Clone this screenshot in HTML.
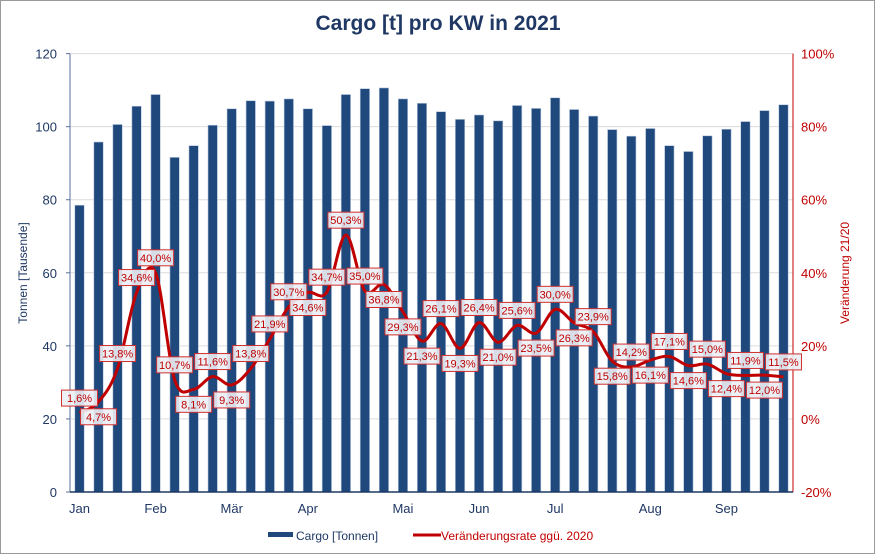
<!DOCTYPE html>
<html><head><meta charset="utf-8"><style>
body{margin:0;background:#fff;}
svg{display:block;font-family:"Liberation Sans",sans-serif;}
</style></head><body>
<svg id="c" width="876" height="556" viewBox="0 0 876 556" xmlns="http://www.w3.org/2000/svg">
<rect x="0.5" y="0.5" width="874" height="553" fill="#fff" stroke="#999"/>
<text x="438" y="30" text-anchor="middle" font-size="21" font-weight="bold" fill="#1f3864">Cargo [t] pro KW in 2021</text>
<text transform="translate(27,273) rotate(-90)" text-anchor="middle" font-size="12" fill="#1f3864">Tonnen [Tausende]</text>
<text transform="translate(849,273) rotate(-90)" text-anchor="middle" font-size="12" fill="#c00000">Veränderung 21/20</text>
<g id="grid"></g><g id="bars"></g><g id="axes"></g><g id="line"></g><g id="labels"></g>
<g>
<rect x="268" y="532" width="25" height="5" fill="#1f497d"/>
<text x="296" y="540" font-size="12" fill="#1f3864">Cargo [Tonnen]</text>
<line x1="413" y1="535" x2="441" y2="535" stroke="#c00000" stroke-width="3"/>
<text x="441" y="540" font-size="12" fill="#c00000">Veränderungsrate ggü. 2020</text>
</g>
</svg>
<script>
const cargo=[78.5,95.8,100.6,105.6,108.8,91.6,94.8,100.4,104.9,107.1,107,107.6,104.9,100.3,108.8,110.4,110.6,107.6,106.4,104.1,102,103.2,101.6,105.8,105,107.9,104.7,102.9,99.2,97.4,99.5,94.8,93.2,97.5,99.3,101.4,104.4,106];
const rate=[1.6,4.7,13.8,34.6,40.0,10.7,8.1,11.6,9.3,13.8,21.9,30.7,34.6,34.7,50.3,35.0,36.8,29.3,21.3,26.1,19.3,26.4,21.0,25.6,23.5,30.0,26.3,23.9,15.8,14.2,16.1,17.1,14.6,15.0,12.4,11.9,12.0,11.5];
const labelPos=[-1,1,-1,-1,-1,-1,1,-1,1,-1,-1,-1,1,-1,-1,-1,1,1,1,-1,1,-1,1,-1,1,-1,1,-1,1,-1,1,-1,1,-1,1,-1,1,-1];
const leftTicks=[0,20,40,60,80,100,120];
const rightTicks=[-20,0,20,40,60,80,100];
const months=["Jan","Feb","Mär","Apr","Mai","Jun","Jul","Aug","Sep"];
const monthIdx=[0,4,8,12,17,21,25,30,34];
const NS="http://www.w3.org/2000/svg";
const X0=70,X1=793,Y0=492,Y1=53.6;
const bw=(X1-X0)/cargo.length;
const xc=i=>X0+bw*(i+0.5);
const yL=v=>Y0-(v/120)*(Y0-Y1);
const yR=v=>Y0-((v+20)/120)*(Y0-Y1);
function mk(t,a,p){const e=document.createElementNS(NS,t);for(const k in a)e.setAttribute(k,a[k]);p.appendChild(e);return e;}
const G=document.getElementById('grid'),B=document.getElementById('bars'),A=document.getElementById('axes'),L=document.getElementById('line'),LB=document.getElementById('labels');
leftTicks.forEach(v=>{
 const g=mk('line',{x1:X0,x2:X1,y1:yL(v),y2:yL(v),stroke:'#dcdcdc'},G);
 
 
 const t=mk('text',{x:57,y:yL(v)+5,'text-anchor':'end','font-size':13,fill:'#1f3864'},A);t.textContent=v;
 
 
 mk('line',{x1:X0-4,x2:X0,y1:yL(v),y2:yL(v),stroke:'#5a6e9a'},A);
});
rightTicks.forEach(v=>{
 const t=mk('text',{x:801,y:yR(v)+5,'font-size':13,fill:'#c00000'},A);t.textContent=v+'%';
 
 
});
cargo.forEach((v,i)=>{
 const r=mk('rect',{x:xc(i)-4.7,y:yL(v),width:9.4,height:Y0-yL(v),fill:'#1f497d',stroke:'#b8c7dd','stroke-width':0.6},B);
 
 
});
mk('line',{x1:X0,x2:X0,y1:Y1,y2:Y0,stroke:'#5a6e9a'},A);
mk('line',{x1:X1,x2:X1,y1:Y1,y2:Y0,stroke:'#c00000'},A);
mk('line',{x1:X0,x2:X1,y1:Y0,y2:Y0,stroke:'#1f3864','stroke-width':1.5},A);
months.forEach((m,k)=>{
 const t=mk('text',{x:xc(monthIdx[k]),y:513,'text-anchor':'middle','font-size':13,fill:'#1f3864'},A);t.textContent=m;
 
 
});
const pts=rate.map((v,i)=>[xc(i),yR(v)]);
let d='M'+pts[0][0]+','+pts[0][1];
for(let i=0;i<pts.length-1;i++){
 const p0=pts[Math.max(0,i-1)],p1=pts[i],p2=pts[i+1],p3=pts[Math.min(pts.length-1,i+2)];
 const c1=[p1[0]+(p2[0]-p0[0])/6,p1[1]+(p2[1]-p0[1])/6],c2=[p2[0]-(p3[0]-p1[0])/6,p2[1]-(p3[1]-p1[1])/6];
 d+=' C'+c1+' '+c2+' '+p2;
}
const ln=mk('path',{d:d,fill:'none',stroke:'#c00000','stroke-width':3,'stroke-linejoin':'round'},L);


rate.forEach((v,i)=>{
 const cy=yR(v)+labelPos[i]*15;
 const g=mk('g',{},LB);
 
 
 mk('rect',{x:xc(i)-18,y:cy-8,width:36,height:16,fill:'rgba(235,238,244,0.9)',stroke:'#d03030','stroke-width':1},g);
 const t=mk('text',{x:xc(i),y:cy+4,'text-anchor':'middle','font-size':11,fill:'#c00000'},g);
 t.textContent=v.toFixed(1).replace('.',',')+'%';
});
</script>
</body></html>
